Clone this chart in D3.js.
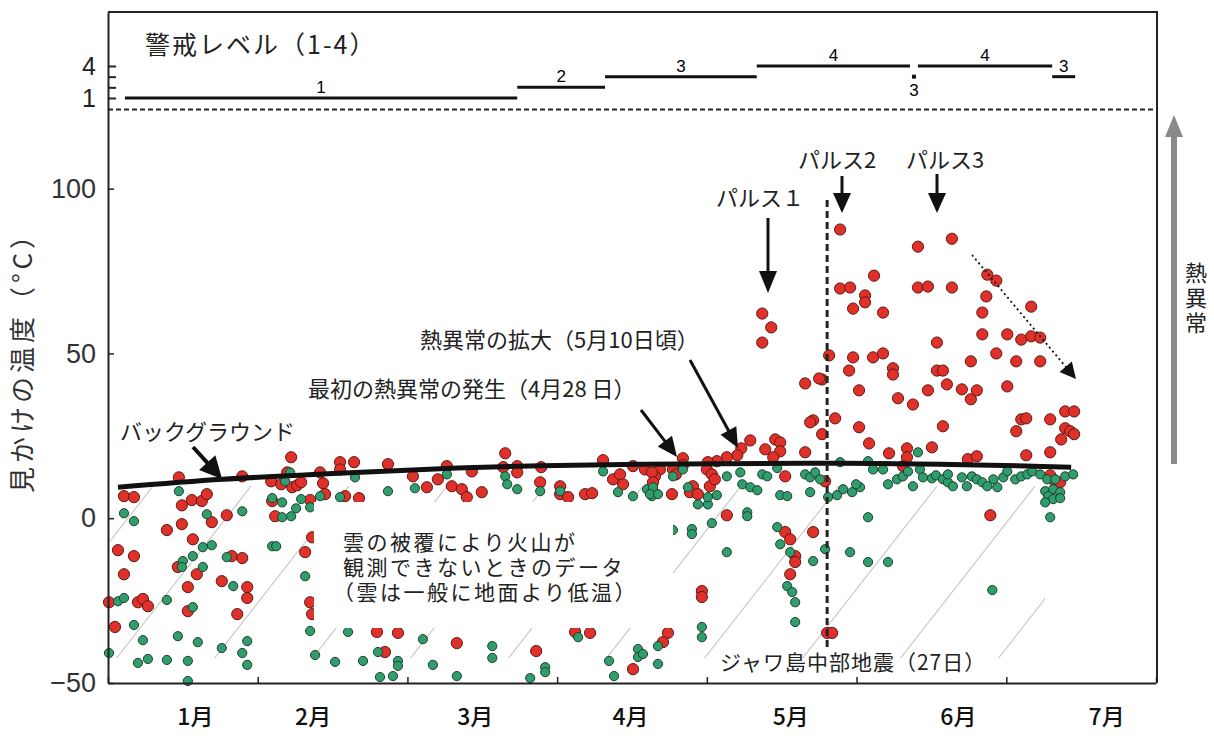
<!DOCTYPE html>
<html>
<head>
<meta charset="utf-8">
<script src="https://cdn.jsdelivr.net/npm/d3@7"></script>
<style>
  body { margin: 0; background: #fff; }
  svg { display: block; font-family: "Noto Sans CJK JP", sans-serif; }
  .num text { font-family: "Liberation Sans", Arial, sans-serif; }
</style>
</head>
<body>
<svg></svg>
<script>
// apparent temperature (deg C) by day counted from 1 January
const redPoints = [
  [146.7,87.6],[162.3,82.4],[169.1,84.8],[153.5,73.6],[146.7,69.7],[148.7,70.0],[151.7,67.6],[151.7,65.5],
  [149.3,63.6],[155.3,62.4],[162.3,70.0],[164.3,70.3],[169.1,70.0],[176.2,73.9],[178.0,72.1],[176.0,67.3],
  [185.0,64.2],[175.2,62.4],[175.2,55.8],[180.2,55.8],[183.0,54.2],[185.0,55.2],[186.8,54.8],[166.1,53.3],
  [144.5,49.4],[149.3,48.8],[153.3,48.8],[155.3,50.0],[148.5,44.8],[157.3,45.5],[157.3,43.6],[166.1,44.8],
  [167.3,44.8],[172.9,47.6],[178.0,50.0],[182.0,47.6],[186.8,47.6],[143.1,42.1],[150.5,38.8],[158.3,36.4],
  [161.3,34.5],[164.3,38.8],[168.1,40.6],[171.1,39.1],[172.9,36.1],[174.1,38.8],[180.2,40.0],[145.7,30.3],
  [143.1,25.5],[150.5,27.6],[152.5,22.7],[167.3,27.9],[182.0,26.4],[183.0,30.0],[184.0,30.3],[188.8,30.0],
  [191.8,32.4],[193.6,32.4],[191.8,27.3],[192.8,26.4],[193.6,25.5],[191.0,23.9],[156.5,19.7],[160.1,21.2],
  [160.1,18.5],[165.1,21.5],[172.3,17.9],[174.1,18.8],[184.0,19.1],[188.8,20.0],[159.3,15.8],[189.4,11.8],
  [190.8,10.9],[188.8,13.0],[143.7,11.2],
  [131.1,62.1],[132.9,57.9],[131.1,53.3],[139.7,40.9],[142.5,42.4],[141.3,29.7],[140.7,29.1],
  [128.7,23.6],[133.7,23.9],[134.7,23.0],[131.7,20.9],[134.7,20.3],[133.3,18.5],[139.7,20.0],[126.9,21.2],
  [126.1,19.1],[124.0,18.5],[122.0,17.3],[120.2,17.0],[115.2,18.2],[115.2,16.1],[110.6,14.8],[107.6,14.8],
  [109.6,12.7],[113.2,14.8],[113.8,13.3],[120.0,14.8],[121.0,13.3],[120.6,9.7],[121.6,11.8],[117.2,9.7],
  [116.6,7.9],[118.2,7.3],[113.0,7.3],[135.7,12.7],[176.8,0.9],[124.0,0.9],[135.7,-4.2],[136.7,-6.4],
  [137.7,-11.5],[137.7,-13.3],[136.7,-17.0],[141.3,-4.2],[119.0,-22.1],[119.0,-23.9],[112.2,-34.8],[111.2,-37.6],
  [144.1,-34.8],[145.1,-34.8],
  [36.7,18.5],[14.2,12.4],[26.9,12.7],[32.7,11.2],[34.7,10.3],[35.9,13.9],[36.9,9.4],[37.9,10.0],
  [38.7,10.9],[43.1,10.6],[43.5,7.3],[42.5,13.9],[3.2,6.7],[5.2,6.4],[14.8,3.9],[16.8,5.5],
  [18.8,5.2],[19.8,7.3],[20.8,-1.2],[23.8,0.9],[14.8,-1.8],[11.8,-3.6],[17.0,-6.4],[2.0,-9.7],
  [5.2,-11.5],[32.9,5.2],[33.5,0.6],[40.5,5.5],[3.2,-17.0],[17.8,-17.0],[14.0,-14.8],[16.0,-20.9],
  [22.8,-19.1],[24.8,-11.5],[26.9,-12.1],[27.9,-20.9],[27.9,-24.2],[25.9,-29.1],[39.5,-10.3],[40.5,-25.5],
  [40.9,-29.1],[40.9,-5.8],[0.2,-25.5],[6.0,-25.5],[7.0,-24.5],[8.0,-26.7],[16.0,-28.2],[1.4,-33.0],
  [46.5,17.0],[46.5,14.8],[49.3,17.0],[56.1,16.4],[79.6,19.7],[79.2,15.5],[82.0,15.8],[82.0,13.9],
  [67.9,15.8],[72.9,14.2],[86.8,15.5],[99.2,17.6],[105.2,15.8],[109.0,13.9],[61.1,12.7],[66.1,11.8],
  [63.9,9.4],[68.9,9.7],[70.9,8.8],[71.9,6.4],[74.9,7.9],[47.5,6.7],[50.3,6.1],[86.6,10.9],
  [90.6,9.7],[90.6,7.3],[92.2,6.4],[95.6,7.3],[97.0,7.6],[101.2,11.8],[102.6,13.3],[103.2,10.3],
  [109.2,10.9],[53.9,-34.5],[58.1,-34.8],[55.5,-40.6],[69.9,-37.9],[85.8,-40.3],[93.6,-34.5],[96.6,-34.8],
  [105.2,-45.8],[99.8,-23.6]
];

const greenPoints = [
  [14.2,8.2],[3.2,1.5],[5.2,-0.9],[19.8,1.2],[26.9,2.1],[32.9,6.1],[35.5,11.2],[36.5,13.9],
  [34.9,4.8],[34.9,0.3],[36.7,0.6],[37.7,3.0],[38.7,5.8],[40.5,3.3],[42.5,6.7],[19.0,-8.8],
  [20.8,-8.2],[17.0,-11.5],[15.0,-13.0],[14.8,-14.8],[19.0,-14.8],[23.8,-11.8],[25.1,-20.6],[32.9,-8.5],
  [33.7,-8.5],[39.5,-17.6],[40.5,-34.2],[41.5,-41.5],[2.0,-25.2],[3.2,-24.2],[11.8,-24.8],[17.0,-27.0],
  [5.2,-32.4],[7.0,-37.0],[14.0,-35.8],[18.0,-37.6],[22.8,-39.4],[27.9,-37.3],[26.9,-40.9],[27.9,-44.5],
  [0.2,-40.9],[6.0,-43.9],[8.0,-42.7],[11.8,-43.0],[16.0,-43.3],[16.0,-49.4],
  [49.5,12.4],[56.1,8.2],[61.5,9.1],[67.9,13.3],[79.6,12.7],[80.0,10.3],[82.0,8.8],[86.6,8.2],
  [90.6,8.2],[99.2,14.2],[102.2,7.9],[105.2,6.7],[108.0,8.8],[109.0,6.7],[46.5,6.4],[48.1,-34.5],
  [63.1,-36.7],[54.1,-40.6],[51.1,-43.3],[58.1,-43.3],[58.1,-44.8],[45.5,-43.6],[65.1,-44.5],[69.9,-47.9],
  [77.0,-38.8],[77.0,-42.4],[87.6,-45.2],[87.6,-46.7],[84.6,-48.5],[94.2,-36.1],[100.4,-43.3],[101.4,-47.9],
  [106.2,-39.7],[106.2,-42.1],[110.2,-38.8],[54.5,-48.2],[57.1,-47.9],
  [115.2,14.8],[113.2,12.7],[109.2,9.4],[108.6,7.3],[110.2,7.3],[116.2,9.4],[118.2,4.2],[120.2,4.2],
  [120.2,6.4],[122.0,7.0],[124.0,12.7],[126.7,13.9],[127.1,10.3],[128.7,9.4],[130.1,8.5],[131.1,13.3],
  [132.1,12.7],[134.1,15.2],[134.7,7.0],[136.1,6.7],[139.7,13.3],[140.7,12.4],[141.7,13.9],[142.7,11.8],
  [140.7,7.9],[144.3,6.4],[146.1,7.0],[147.3,8.8],[149.1,7.9],[150.7,9.4],[149.9,10.3],[152.3,17.3],
  [153.3,14.8],[155.3,14.8],[156.3,10.3],[158.1,11.8],[159.3,12.7],[160.3,14.2],[161.3,9.7],[162.7,14.8],
  [163.3,12.4],[165.1,12.1],[165.9,13.0],[167.3,11.8],[168.3,10.9],[169.3,9.7],[168.3,13.3],[171.1,12.4],
  [172.1,9.7],[173.1,12.7],[174.1,11.8],[175.2,10.9],[176.2,9.7],[178.2,9.4],[177.4,11.8],[179.4,12.4],
  [180.2,14.2],[181.8,11.8],[183.0,12.7],[184.2,13.3],[185.2,14.2],[186.8,13.3],[188.2,11.8],[189.8,11.8],
  [191.8,12.7],[193.4,13.3],[187.8,8.2],[189.4,8.8],[190.8,7.9],[188.4,6.7],[189.4,5.8],[190.8,6.1],
  [187.8,4.8],[188.8,0.3],[162.3,20.0],[113.2,-3.6],[117.0,-3.3],[117.0,-4.8],[121.0,-1.5],[128.1,1.8],
  [128.1,0.6],[124.0,-10.3],[134.1,-2.7],[134.7,-7.9],[136.7,-10.3],[136.1,-20.6],[137.1,-22.4],[137.7,-25.5],
  [137.7,-31.5],[143.7,-9.4],[141.3,-13.0],[148.7,-10.3],[152.3,0.3],[152.3,-13.3],[156.3,-13.3],[177.2,-21.8],
  [119.0,-33.0],[119.0,-36.1],[110.2,-44.2],[107.2,-41.2],[146.7,17.0]
];

// background trend
const backgroundDays = [2, 23, 44, 70, 107, 147, 193];
const backgroundTemps = [9.4, 11.8, 13.5, 15.2, 16.4, 16.7, 15.5];

// alert level history
const alertStart = [3.4, 82, 99.6, 130, 161.1, 162.3, 189.2];
const alertEnd = [82, 99.6, 130, 160.7, 162, 189.2, 193.8];
const alertLevel = [1, 2, 3, 4, 3, 4, 3];

const dayTicks = [0, 30, 60, 90, 120, 150, 180, 210];
const monthLabels = ['1月', '2月', '3月', '4月', '5月', '6月', '7月'];
const monthLabelDays = [17.4, 41, 73.5, 104.6, 136.7, 170.3, 200];
const tempTicks = [-50, 0, 50, 100];
const levelTicks = [1, 2, 3, 4];

const quakeDay = 144.1;
const separatorTemp = 124;

const width = 1214;
const height = 738;
const plotLeft = 108, plotRight = 1157, plotTop = 12, plotBottom = 683;

const svg = d3.select('svg').attr('width', width).attr('height', height);

const xScale = d3.scaleLinear().domain([0, 210]).range([plotLeft, plotRight - 1]);
const yScale = d3.scaleLinear().domain([-50, 153.6]).range([plotBottom, plotTop]);
const levelScale = d3.scaleLinear().domain([1, 4]).range([98, 66]);

const arrow = (x1, y1, x2, y2, opts = {}) => {
  const hl = opts.head || 18, hw = opts.headW || 8;
  const color = opts.color || '#111';
  const ang = Math.atan2(y2 - y1, x2 - x1);
  const bx = x2 - hl * Math.cos(ang), by = y2 - hl * Math.sin(ang);
  svg.append('line')
     .attr('x1', x1).attr('y1', y1).attr('x2', bx + Math.cos(ang)).attr('y2', by + Math.sin(ang))
     .attr('stroke', color)
     .attr('stroke-width', opts.width || 3)
     .attr('stroke-dasharray', opts.dash || null);
  const px = -Math.sin(ang) * hw, py = Math.cos(ang) * hw;
  svg.append('path')
     .attr('d', `M${x2},${y2}L${bx + px},${by + py}L${bx - px},${by - py}Z`)
     .attr('fill', color);
}

const drawHatch = () => {
  svg.append('clipPath').attr('id', 'hatchClip')
     .append('rect').attr('x', plotLeft + 2).attr('y', 486).attr('width', 935).attr('height', 172);
  const g = svg.append('g').attr('clip-path', 'url(#hatchClip)');
  for (let x0 = 162 - 98 * 2; x0 < 1150; x0 += 98) {
    // line through (x0, 600) with slope 1.28
    g.append('line')
     .attr('x1', x0 - 100 / 1.28).attr('y1', 700)
     .attr('x2', x0 + 150 / 1.28).attr('y2', 450)
     .attr('stroke', '#c6c6c6')
     .attr('stroke-width', 1.1);
  }
}

const drawDots = () => {
  svg.append('g').selectAll('circle')
     .data(redPoints)
     .enter()
     .append('circle')
     .attr('cx', d => xScale(d[0]))
     .attr('cy', d => yScale(d[1]))
     .attr('r', 5.6)
     .attr('fill', '#e0302a')
     .attr('stroke', '#5e1a16')
     .attr('stroke-width', 1);

  svg.append('g').selectAll('circle')
     .data(greenPoints)
     .enter()
     .append('circle')
     .attr('cx', d => xScale(d[0]))
     .attr('cy', d => yScale(d[1]))
     .attr('r', 4.6)
     .attr('fill', '#2f9d6c')
     .attr('stroke', '#1d3f30')
     .attr('stroke-width', 1);

  const line = d3.line()
    .x(d => xScale(d[0]))
    .y(d => yScale(d[1]))
    .curve(d3.curveMonotoneX);

  svg.append('path')
     .datum(backgroundDays.map((d, i) => [d, backgroundTemps[i]]))
     .attr('d', line)
     .attr('fill', 'none')
     .attr('stroke', '#111')
     .attr('stroke-width', 5);
}

const drawAlert = () => {
  const g = svg.append('g');
  alertLevel.forEach((lv, i) => {
    const x1 = xScale(alertStart[i]), x2 = xScale(alertEnd[i]);
    const short = x2 - x1 < 8;
    g.append('line')
     .attr('x1', x1).attr('x2', short ? x1 + 4 : x2)
     .attr('y1', levelScale(lv)).attr('y2', levelScale(lv))
     .attr('stroke', '#111')
     .attr('stroke-width', short ? 4 : 3);
    g.append('text')
     .attr('x', short ? x1 + 2 : (x1 + x2) / 2)
     .attr('y', short ? levelScale(lv) + 19 : levelScale(lv) - 5)
     .attr('text-anchor', 'middle')
     .attr('font-size', 17)
     .attr('font-family', 'Liberation Sans Narrow, Liberation Sans, sans-serif')
     .text(lv);
  });

  svg.append('line')
     .attr('x1', plotLeft).attr('x2', plotRight)
     .attr('y1', yScale(separatorTemp)).attr('y2', yScale(separatorTemp))
     .attr('stroke', '#222')
     .attr('stroke-width', 2)
     .attr('stroke-dasharray', '5,3');

  svg.append('text')
     .attr('x', 145).attr('y', 54)
     .attr('font-size', 25)
     .attr('letter-spacing', 2)
     .attr('fill', '#222')
     .text('警戒レベル（1-4）');
}

const generateAxes = () => {
  const yAxis = d3.axisLeft(yScale).tickValues(tempTicks).tickSizeInner(-6).tickSizeOuter(0).tickPadding(12);
  const yg = svg.append('g').attr('class', 'num').attr('transform', `translate(${plotLeft},0)`).call(yAxis);
  yg.select('.domain').attr('stroke', '#222').attr('stroke-width', 2);
  yg.selectAll('.tick line').attr('stroke', '#222').attr('stroke-width', 1.5);
  yg.selectAll('.tick text').attr('font-size', 27).attr('fill', '#333');

  const lAxis = d3.axisLeft(levelScale).tickValues(levelTicks)
    .tickFormat(d => (d === 1 || d === 4) ? d : '')
    .tickSizeInner(-8).tickSizeOuter(0).tickPadding(12);
  const lg = svg.append('g').attr('class', 'num').attr('transform', `translate(${plotLeft},0)`).call(lAxis);
  lg.select('.domain').remove();
  lg.selectAll('.tick line').attr('stroke', '#222').attr('stroke-width', 2);
  lg.selectAll('.tick text').attr('font-size', 25).attr('fill', '#222')
    .attr('font-family', 'Liberation Sans Narrow, Liberation Sans, sans-serif');

  const xAxis = d3.axisBottom(xScale).tickValues(dayTicks).tickFormat('').tickSizeInner(-6).tickSizeOuter(0);
  const xg = svg.append('g').attr('transform', `translate(0,${plotBottom})`).call(xAxis);
  xg.select('.domain').attr('stroke', '#222').attr('stroke-width', 2);
  xg.selectAll('.tick line').attr('stroke', '#222').attr('stroke-width', 1.5);

  const mAxis = d3.axisBottom(xScale).tickValues(monthLabelDays)
    .tickFormat((d, i) => monthLabels[i]).tickSize(0).tickPadding(26);
  const mg = svg.append('g').attr('transform', `translate(0,${plotBottom})`).call(mAxis);
  mg.select('.domain').remove();
  mg.selectAll('.tick text').attr('font-size', 23).attr('fill', '#111')
    .attr('font-family', '"Noto Sans CJK JP", sans-serif').attr('font-weight', 500);

  // frame top and right
  svg.append('path')
     .attr('d', `M${plotLeft},${plotTop}H${plotRight}V${plotBottom}`)
     .attr('fill', 'none')
     .attr('stroke', '#222')
     .attr('stroke-width', 2);

  svg.append('text')
     .attr('transform', `translate(32,356) rotate(-90)`)
     .attr('text-anchor', 'middle')
     .attr('font-size', 26)
     .attr('letter-spacing', 4)
     .attr('fill', '#333')
     .text('見かけの温度（°C）');
}

const drawNotes = () => {
  // cloud box
  svg.append('rect')
     .attr('x', 314).attr('y', 502).attr('width', 359).attr('height', 126)
     .attr('fill', '#fff');
  const boxLines = ['雲の被覆により火山が', '観測できないときのデータ', '（雲は一般に地面より低温）'];
  svg.append('g').selectAll('text')
     .data(boxLines)
     .enter()
     .append('text')
     .attr('x', d => d.startsWith('（') ? 333 : 343)
     .attr('y', (d, i) => 550 + i * 25)
     .attr('font-size', 21)
     .attr('letter-spacing', 2.5)
     .attr('fill', '#222')
     .text(d => d);

  // earthquake
  svg.append('line')
     .attr('x1', xScale(quakeDay)).attr('x2', xScale(quakeDay))
     .attr('y1', 200).attr('y2', 648)
     .attr('stroke', '#222')
     .attr('stroke-width', 3)
     .attr('stroke-dasharray', '7,4');
  svg.append('text')
     .attr('x', 720).attr('y', 670)
     .attr('font-size', 21).attr('letter-spacing', 1).attr('fill', '#222')
     .text('ジャワ島中部地震（27日）');

  const note = (x, y, s, size = 22) => svg.append('text')
     .attr('x', x).attr('y', y).attr('font-size', size).attr('fill', '#222').text(s);

  note(120, 440, 'バックグラウンド');
  arrow(193, 447, 222, 479, { head: 22, headW: 11, width: 4 });

  note(308, 397, '最初の熱異常の発生（4月28 日）');
  arrow(641, 410, 677, 457, { head: 20, headW: 9 });

  note(420, 348, '熱異常の拡大（5月10日頃）');
  arrow(690, 360, 738, 448, { head: 20, headW: 9 });

  note(716, 206, 'パルス１');
  arrow(768, 218, 768, 293, { head: 22, headW: 9 });
  note(798, 168, 'パルス2');
  arrow(842, 176, 842, 213, { head: 20, headW: 9 });
  note(906, 168, 'パルス3');
  arrow(937, 174, 937, 213, { head: 20, headW: 9 });

  // decline of pulse 3
  arrow(972, 255, 1076, 379, { head: 16, headW: 8, width: 1.8, dash: '2,3' });

  // thermal anomaly arrow
  arrow(1174, 464, 1174, 115, { head: 22, headW: 9, width: 6, color: '#8a8a8a' });
  svg.append('text')
     .attr('x', 1196).attr('y', 262)
     .attr('font-size', 22).attr('fill', '#222')
     .attr('letter-spacing', 3)
     .style('writing-mode', 'vertical-rl')
     .style('text-orientation', 'upright')
     .text('熱異常');
}

drawHatch();
drawDots();
drawAlert();
drawNotes();
generateAxes();
</script>
</body>
</html>
